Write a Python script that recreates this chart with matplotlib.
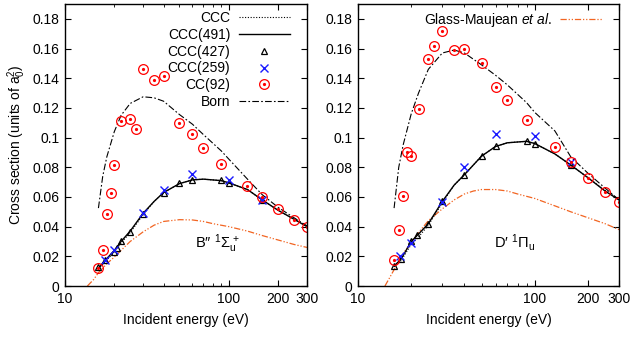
import numpy as np
import matplotlib
matplotlib.use('Agg')
import matplotlib.pyplot as plt
from matplotlib.legend_handler import HandlerTuple
from matplotlib.lines import Line2D

plt.rcParams['font.family'] = ['Liberation Sans', 'DejaVu Sans']
plt.rcParams['font.size'] = 10
plt.rcParams['mathtext.fontset'] = 'custom'
plt.rcParams['mathtext.rm'] = 'Liberation Sans'
plt.rcParams['mathtext.it'] = 'Liberation Sans:italic'

# ---- B'' 1Sigma_u+ (left panel) ----
b_line_e = [16, 17.5, 20, 22, 25, 30, 35, 40, 50, 60, 70, 90, 100, 130, 160, 200, 250, 300]
b_ccc491 = [0.012, 0.017, 0.024, 0.030, 0.037, 0.049, 0.057, 0.063, 0.069, 0.0715, 0.072, 0.071,
            0.0695, 0.065, 0.058, 0.051, 0.045, 0.040]
b_ccc = [0.0115, 0.016, 0.023, 0.029, 0.036, 0.048, 0.057, 0.063, 0.069, 0.0715, 0.072, 0.071,
         0.0695, 0.065, 0.058, 0.051, 0.045, 0.0405]
b_427_e = [16, 17.5, 20, 20.7, 22, 25, 30, 40, 50, 60, 90, 100, 160]
b_427 = [0.0125, 0.0176, 0.0232, 0.0255, 0.030, 0.0367, 0.0487, 0.0626, 0.0694, 0.0716, 0.0712, 0.0694, 0.0581]
b_259_e = [17.5, 20, 30, 40, 60, 100, 160]
b_259 = [0.0176, 0.0240, 0.049, 0.065, 0.0757, 0.0716, 0.058]
b_cc92_e = [16, 17, 18, 19, 20, 22, 25, 27, 30, 35, 40, 50, 60, 70, 90, 130, 160, 200, 250, 300]
b_cc92 = [0.012, 0.0243, 0.0486, 0.0628, 0.0815, 0.111, 0.1122, 0.1059, 0.1464, 0.139, 0.1414, 0.110,
          0.1025, 0.0928, 0.0824, 0.0676, 0.060, 0.0518, 0.0446, 0.0397]
b_born_e = [16, 17, 18, 20, 22, 25, 30, 35, 40, 50, 60, 70, 90, 100, 130, 160, 200, 250, 300]
b_born = [0.0525, 0.074, 0.087, 0.104, 0.115, 0.123, 0.1275, 0.1268, 0.1245, 0.1155, 0.109, 0.102,
          0.091, 0.0855, 0.072, 0.0615, 0.053, 0.046, 0.0405]
b_gm_e = [13.7, 15, 16, 17, 18, 20, 22, 25, 30, 35, 40, 50, 60, 70, 80, 100, 130, 160, 200, 250, 300]
b_gm = [0.0, 0.0045, 0.009, 0.012, 0.015, 0.0195, 0.024, 0.030, 0.0365, 0.041, 0.0435, 0.0447, 0.0445,
        0.0435, 0.042, 0.040, 0.037, 0.034, 0.031, 0.028, 0.026]

# ---- D' 1Pi_u (right panel) ----
d_line_e = [16, 17.5, 20, 22, 25, 30, 35, 40, 50, 60, 70, 90, 100, 130, 160, 200, 250, 300]
d_ccc491 = [0.0135, 0.018, 0.030, 0.035, 0.042, 0.057, 0.068, 0.075, 0.0875, 0.094, 0.0965, 0.0975,
            0.096, 0.089, 0.0815, 0.073, 0.064, 0.058]
d_ccc = [0.013, 0.017, 0.028, 0.033, 0.041, 0.056, 0.068, 0.075, 0.0875, 0.094, 0.0965, 0.0975,
         0.096, 0.089, 0.0815, 0.073, 0.0645, 0.0585]
d_427_e = [16, 17.5, 20, 21.7, 24.8, 30, 40, 50, 60, 90, 100, 160]
d_427 = [0.0135, 0.018, 0.030, 0.0345, 0.0417, 0.057, 0.075, 0.0874, 0.0941, 0.098, 0.096, 0.0813]
d_259_e = [17.3, 20, 30, 40, 60, 100, 160]
d_259 = [0.0203, 0.0288, 0.0565, 0.0802, 0.1025, 0.1009, 0.0836]
d_cc92_e = [16, 17, 18, 19, 20, 22, 25, 27, 30, 35, 40, 50, 60, 70, 90, 130, 160, 200, 250, 300]
d_cc92 = [0.0176, 0.0378, 0.0608, 0.0901, 0.0878, 0.1194, 0.1527, 0.1615, 0.1716, 0.159, 0.1597, 0.1505,
          0.134, 0.1255, 0.112, 0.0935, 0.0836, 0.0728, 0.0635, 0.0565]
d_born_e = [16, 17, 18, 20, 22, 25, 30, 35, 40, 50, 60, 70, 90, 100, 130, 160, 200, 250, 300]
d_born = [0.0525, 0.080, 0.095, 0.116, 0.130, 0.146, 0.157, 0.159, 0.157, 0.149, 0.142, 0.1355,
          0.1235, 0.117, 0.1045, 0.087, 0.076, 0.066, 0.058]
d_gm_e = [14.2, 15, 16, 17, 18, 20, 22, 25, 30, 35, 40, 45, 50, 60, 70, 80, 100, 130, 160, 200, 250, 300]
d_gm = [0.0, 0.005, 0.011, 0.017, 0.022, 0.029, 0.036, 0.044, 0.052, 0.058, 0.062, 0.064, 0.065, 0.065,
        0.064, 0.062, 0.059, 0.054, 0.050, 0.046, 0.042, 0.038]

orange = '#f26522'
dashdot = (0, (6, 2, 1.5, 2))
gm_dash = (0, (5, 1.5, 1, 1.5, 1, 1.5))
yticks = [0, 0.02, 0.04, 0.06, 0.08, 0.1, 0.12, 0.14, 0.16, 0.18]
ytlabels = ['0', '0.02', '0.04', '0.06', '0.08', '0.1', '0.12', '0.14', '0.16', '0.18']


def draw(ax, le, ccc, c491, e427, v427, e259, v259, e92, v92, eb, vb, eg, vg):
    ax.plot(eg, vg, color=orange, lw=0.9, linestyle=gm_dash)
    ax.plot(eb, vb, color='black', lw=0.8, linestyle=dashdot)
    ax.plot(le, ccc, color='black', lw=0.8, linestyle=(0, (1, 1.5)))
    ax.plot(le, c491, color='black', lw=1.0)
    ax.plot(e427, v427, linestyle='none', marker='^', ms=5, mfc='none', mec='black', mew=0.9)
    ax.plot(e259, v259, linestyle='none', marker='x', ms=6, color='#1a1aff', mew=1.0)
    ax.plot(e92, v92, linestyle='none', marker='o', ms=7, mfc='none', mec='red', mew=0.9)
    ax.plot(e92, v92, linestyle='none', marker='o', ms=1.3, color='red')
    ax.set_xscale('log')
    ax.set_xlim(10, 300)
    ax.set_ylim(0, 0.19)
    ax.set_xticks([10, 100, 200, 300])
    ax.set_xticklabels(['10', '100', '200', '300'])
    ax.set_yticks(yticks)
    ax.set_yticklabels(ytlabels)
    ax.tick_params(which='both', direction='in', top=True, right=True, labelsize=10, pad=4)
    ax.tick_params(which='major', length=4, width=0.8)
    ax.tick_params(which='minor', length=2.5, width=0.6)
    ax.xaxis.set_minor_formatter(matplotlib.ticker.NullFormatter())
    ax.set_xlabel('Incident energy (eV)', fontsize=10, labelpad=5)
    for s in ax.spines.values():
        s.set_linewidth(1.0)


fig = plt.figure(figsize=(6.34, 3.37), dpi=100)
ax1 = fig.add_axes([0.1025, 0.1513, 0.3817, 0.8368])
ax2 = fig.add_axes([0.5647, 0.1513, 0.4117, 0.8368])

draw(ax1, b_line_e, b_ccc, b_ccc491, b_427_e, b_427, b_259_e, b_259, b_cc92_e, b_cc92,
     b_born_e, b_born, b_gm_e, b_gm)
draw(ax2, d_line_e, d_ccc, d_ccc491, d_427_e, d_427, d_259_e, d_259, d_cc92_e, d_cc92,
     d_born_e, d_born, d_gm_e, d_gm)

ax1.set_ylabel(r'Cross section (units of a$_0^2$)', fontsize=10, labelpad=3)

ax1.text(0.63, 0.15, "B\u2033 $^1\\Sigma_\\mathrm{u}^{\\,+}$", transform=ax1.transAxes,
         ha='center', va='center', fontsize=10.5)
ax2.text(0.6, 0.155, "D\u2032 $^1\\Pi_\\mathrm{u}$", transform=ax2.transAxes,
         ha='center', va='center', fontsize=10.5)

# legends
h_ccc = Line2D([], [], color='black', lw=0.8, linestyle=(0, (1, 1.5)))
h_491 = Line2D([], [], color='black', lw=1.0)
h_427 = Line2D([], [], linestyle='none', marker='^', ms=5, mfc='none', mec='black', mew=0.9)
h_259 = Line2D([], [], linestyle='none', marker='x', ms=6, color='#1a1aff', mew=1.0)
h_92a = Line2D([], [], linestyle='none', marker='o', ms=7, mfc='none', mec='red', mew=0.9)
h_92b = Line2D([], [], linestyle='none', marker='o', ms=1.3, color='red')
h_born = Line2D([], [], color='black', lw=0.8, linestyle=dashdot)
leg1 = ax1.legend([h_ccc, h_491, h_427, h_259, (h_92a, h_92b), h_born],
                  ['CCC', 'CCC(491)', 'CCC(427)', 'CCC(259)', 'CC(92)', 'Born'],
                  handler_map={tuple: HandlerTuple(ndivide=1, pad=0)},
                  loc='upper right', bbox_to_anchor=(0.93, 0.975), frameon=False,
                  markerfirst=False, handlelength=3.7, handletextpad=0.6,
                  labelspacing=0.2, borderpad=0, borderaxespad=0, fontsize=10)

h_gm = Line2D([], [], color=orange, lw=0.9, linestyle=gm_dash)
ax2.legend([h_gm], ['Glass-Maujean $et\\ al.$'], loc='upper right',
           bbox_to_anchor=(0.935, 0.975), frameon=False, markerfirst=False,
           handlelength=3.0, handletextpad=0.6, borderpad=0, borderaxespad=0, fontsize=10)

fig.savefig('out.png', dpi=100)
